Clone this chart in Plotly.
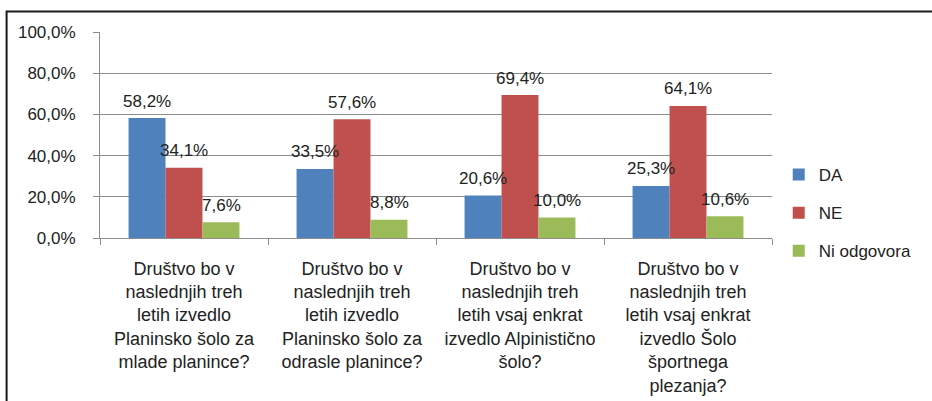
import plotly.graph_objects as go

categories = [
    "Društvo bo v<br>naslednjih treh<br>letih izvedlo<br>Planinsko šolo za<br>mlade planince?",
    "Društvo bo v<br>naslednjih treh<br>letih izvedlo<br>Planinsko šolo za<br>odrasle planince?",
    "Društvo bo v<br>naslednjih treh<br>letih vsaj enkrat<br>izvedlo Alpinistično<br>šolo?",
    "Društvo bo v<br>naslednjih treh<br>letih vsaj enkrat<br>izvedlo Šolo<br>športnega<br>plezanja?",
]
cat_ids = ["Q1", "Q2", "Q3", "Q4"]
da = [0.582, 0.335, 0.206, 0.253]
ne = [0.341, 0.576, 0.694, 0.641]
ni_odgovora = [0.076, 0.088, 0.100, 0.106]

series = [
    ("DA", da, "#4F81BD"),
    ("NE", ne, "#C0504D"),
    ("Ni odgovora", ni_odgovora, "#9BBB59"),
]

font = "Liberation Sans"

fig = go.Figure()
for name, vals, col in series:
    fig.add_trace(go.Bar(
        x=cat_ids, y=vals, name=name, legendgroup=name,
        marker=dict(color=col, line=dict(width=0)),
    ))

# data labels, lifted above the bar tops like Excel's
bar_w = 37
for i, (name, vals, col) in enumerate(series):
    for c, v in zip(cat_ids, vals):
        fig.add_annotation(
            x=c, y=v, xref="x", yref="y",
            text=f"{v*100:.1f}%".replace(".", ","),
            showarrow=False, xshift=(i - 1) * bar_w, yshift=17,
            font=dict(family=font, size=17, color="#222222"),
        )

# outer chart frame
fig.add_shape(type="rect", xref="paper", yref="paper",
              x0=-0.139, x1=1.5, y0=1.1, y1=-1.5,
              line=dict(color="#1a1a1a", width=2), layer="above")

fig.update_layout(
    width=932, height=401,
    margin=dict(l=100, r=160, t=32, b=163, autoexpand=False),
    paper_bgcolor="white", plot_bgcolor="white",
    separators=",.",
    barmode="group", bargap=0.34, bargroupgap=0,
    font=dict(family=font, size=16, color="#222222"),
    showlegend=True,
    legend=dict(x=1.01, y=0.121, yanchor="middle", xanchor="left",
                tracegroupgap=13, font=dict(family=font, size=17),
                itemwidth=30),
)
fig.update_yaxes(
    range=[0, 1], dtick=0.2, tickformat=".1%",
    showgrid=True, gridcolor="#8c8c8c", gridwidth=1,
    showline=True, linecolor="#8c8c8c", linewidth=1,
    ticks="outside", ticklen=6, tickcolor="#8c8c8c",
    tickfont=dict(family=font, size=17), zeroline=False,
    ticklabelstandoff=14, automargin=False,
)
fig.update_xaxes(
    tickvals=cat_ids, ticktext=categories,
    showline=True, linecolor="#8c8c8c", linewidth=1,
    ticks="outside", ticklen=6, tickcolor="#8c8c8c", tickson="boundaries",
    tickfont=dict(family=font, size=18), ticklabelstandoff=14,
    automargin=False,
)

# drop the page's default 8px body margin so the chart sits at (0, 0)
fig.write_html("out.html", config={"displayModeBar": False},
               post_script="document.body.style.margin='0';")
